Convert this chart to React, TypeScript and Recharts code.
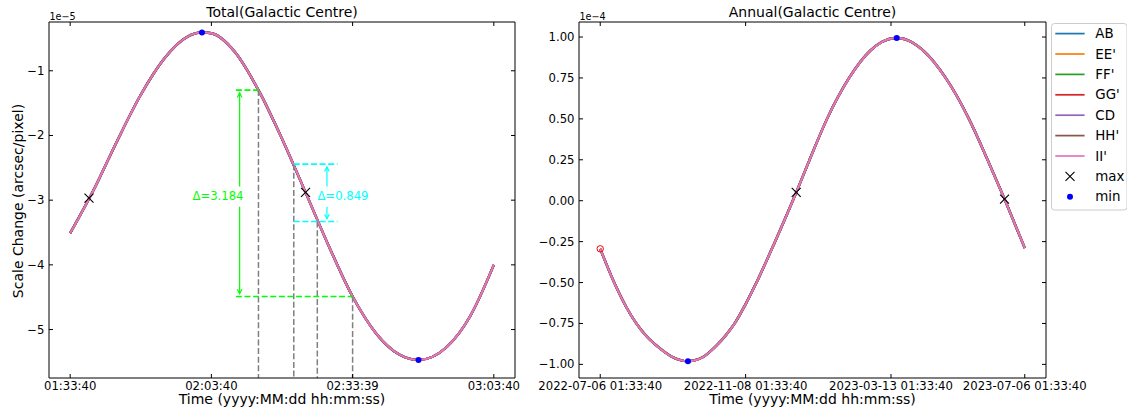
import React from 'react';
import {
  ComposedChart,
  Line,
  XAxis,
  YAxis,
  ReferenceLine,
  ReferenceDot,
  Legend,
  Customized,
} from 'recharts';

const FONT = "'DejaVu Sans', sans-serif";
const TICK_FS = 11.67;
const LABEL_FS = 14;

// ---------- series ----------
const seriesNames = ['AB', "EE'", "FF'", "GG'", 'CD', "HH'", "II'"];
const seriesColors = ['#1f77b4', '#ff7f0e', '#2ca02c', '#d62728', '#9467bd', '#8c564b', '#e377c2'];

// ---------- Total (Galactic Centre), x in minutes after 01:33:40, y in 1e-5 ----------
const totalMinutes = [0, 5, 10, 15, 20, 25, 28, 30, 35, 40, 45, 50, 55, 60, 65, 70, 74, 80, 85, 90];
const totalValues = [-3.51, -2.84, -2.08, -1.37, -0.81, -0.47, -0.407, -0.42, -0.71, -1.299, -2.05, -2.88, -3.72, -4.49, -5.06, -5.39, -5.47, -5.27, -4.79, -4.0];
const totalTickMinutes = [0, 30, 60, 90];
const totalTickLabels = ['01:33:40', '02:03:40', '02:33:39', '03:03:40'];
const totalYTicks = [-5, -4, -3, -2, -1];
const totalMaxMinutes = [4, 50];
const totalMaxValues = [-2.97, -2.88];
const totalMinMinutes = [28, 74];
const totalMinValues = [-0.407, -5.47];
const totalXDomain = [-4.5, 94.5];
const totalYDomain = [-5.749, -0.246];

// difference annotations (data coordinates)
const dropMinutes = [40, 47.5, 52.5, 60];
const dropValues = [-1.299, -2.443, -3.331, -4.49];
const bigDeltaLevels = [-1.299, -4.49];
const bigDeltaStart = 35.2;
const bigDeltaEnds = [40, 60];
const smallDeltaLevels = [-2.443, -3.331];
const smallDeltaStart = 47.5;
const smallDeltaEnd = 56.8;
const deltaLabels = ['Δ=3.184', 'Δ=0.849'];
const deltaColors = ['#00ff00', '#00ffff'];
const deltaArrowMinutes = [36.0, 54.55];
const deltaLabelMinutes = [31.4, 57.95];
const deltaLabelValue = -2.94;
const deltaGap = [-2.79, -3.1];

// ---------- Annual (Galactic Centre), x in days after 2022-07-06 01:33:40, y in 1e-4 ----------
const annualDays = [0, 12, 22, 31, 40, 50, 62, 75.4, 88, 100, 108, 116, 125, 134, 150, 168.5, 180, 195, 214, 232, 242, 254.9, 268, 278, 297, 317, 333, 347.6, 365];
const annualValues = [-0.294, -0.5, -0.645, -0.75, -0.83, -0.895, -0.955, -0.981, -0.957, -0.885, -0.822, -0.745, -0.632, -0.505, -0.255, 0.05, 0.25, 0.5, 0.75, 0.915, 0.969, 0.994, 0.968, 0.915, 0.75, 0.5, 0.25, 0.01, -0.289];
const annualTickDays = [0, 125, 250, 365];
const annualTickLabels = ['2022-07-06 01:33:40', '2022-11-08 01:33:40', '2023-03-13 01:33:40', '2023-07-06 01:33:40'];
const annualYTicks = [-1, -0.75, -0.5, -0.25, 0, 0.25, 0.5, 0.75, 1];
const annualMaxDays = [168.5, 347.6];
const annualMaxValues = [0.051, 0.01];
const annualMinDays = [75.4, 254.9];
const annualMinValues = [-0.981, 0.994];
const annualStartDay = 0;
const annualStartValue = -0.294;
const annualXDomain = [-18.25, 383.25];
const annualYDomain = [-1.0832, 1.0918];

const buildRows = (xs: number[], ys: number[]) =>
  xs.map((x, i) => {
    const row: any = { t: x };
    seriesNames.forEach((n) => {
      row[n] = ys[i];
    });
    return row;
  });

const totalData = buildRows(totalMinutes, totalValues);
const annualData = buildRows(annualDays, annualValues);

const minus = (s: string) => s.replace('-', '\u2212');

// ---------- tick renderers (matplotlib-style inward ticks) ----------
const bottomTick = (fmt: (v: number) => string) => (p: any) => (
  <g>
    <line x1={p.x} y1={p.y} x2={p.x} y2={p.y - 4} stroke="#000" strokeWidth={1} />
    <text x={p.x} y={p.y + 12} textAnchor="middle" fontSize={TICK_FS} fontFamily={FONT} fill="#000">
      {fmt(p.payload.value)}
    </text>
  </g>
);
const topTick = (p: any) => <line x1={p.x} y1={p.y} x2={p.x} y2={p.y + 4} stroke="#000" strokeWidth={1} />;
const leftTick = (fmt: (v: number) => string) => (p: any) => (
  <g>
    <line x1={p.x} y1={p.y} x2={p.x + 4} y2={p.y} stroke="#000" strokeWidth={1} />
    <text x={p.x - 4.5} y={p.y} textAnchor="end" dominantBaseline="central" fontSize={TICK_FS} fontFamily={FONT} fill="#000">
      {fmt(p.payload.value)}
    </text>
  </g>
);
const rightTick = (p: any) => <line x1={p.x} y1={p.y} x2={p.x - 4} y2={p.y} stroke="#000" strokeWidth={1} />;

const fmtTotalX = (v: number) => totalTickLabels[totalTickMinutes.indexOf(v)] ?? '';
const fmtAnnualX = (v: number) => annualTickLabels[annualTickDays.indexOf(v)] ?? '';
const fmtTotalY = (v: number) => minus(String(v));
const fmtAnnualY = (v: number) => minus(v.toFixed(2));

// ---------- marker shapes ----------
const crossShape = (p: any) => (
  <path
    d={`M${p.cx - 4.5},${p.cy - 4.5}L${p.cx + 4.5},${p.cy + 4.5}M${p.cx - 4.5},${p.cy + 4.5}L${p.cx + 4.5},${p.cy - 4.5}`}
    stroke="#000"
    strokeWidth={1.1}
    fill="none"
  />
);
const dotShape = (p: any) => <circle cx={p.cx} cy={p.cy} r={3} fill="#0000ff" stroke="none" />;

const arrowShape = (color: string) => (p: any) => {
  const { x1, y1, x2, y2 } = p;
  const dx = x2 - x1;
  const dy = y2 - y1;
  const len = Math.hypot(dx, dy) || 1;
  const ux = dx / len;
  const uy = dy / len;
  const tipX = x1 + ux * 2.8;
  const tipY = y1 + uy * 2.8;
  const hl = 4.5;
  const hw = 2.3;
  const bx = tipX + ux * hl;
  const by = tipY + uy * hl;
  const px = -uy;
  const py = ux;
  return (
    <g>
      <line x1={tipX} y1={tipY} x2={x2} y2={y2} stroke={color} strokeWidth={1.2} />
      <polyline
        points={`${bx + px * hw},${by + py * hw} ${tipX},${tipY} ${bx - px * hw},${by - py * hw}`}
        fill="none"
        stroke={color}
        strokeWidth={1.2}
      />
    </g>
  );
};

const labelShape = (text: string, color: string) => (p: any) => (
  <text x={p.cx} y={p.cy} textAnchor="middle" dominantBaseline="central" fontSize={TICK_FS} fontFamily={FONT} fill={color}>
    {text}
  </text>
);

// ---------- static texts ----------
const LeftTexts = () => (
  <g fontFamily={FONT} fill="#000">
    <text x={282} y={17} textAnchor="middle" fontSize={LABEL_FS}>Total(Galactic Centre)</text>
    <text x={49.5} y={19.5} fontSize={9.6}>1e{'\u2212'}5</text>
    <text x={282} y={404} textAnchor="middle" fontSize={LABEL_FS}>Time (yyyy:MM:dd hh:mm:ss)</text>
    <text x={17.5} y={201} textAnchor="middle" dominantBaseline="central" fontSize={LABEL_FS} transform="rotate(-90 17.5 201)">
      Scale Change (arcsec/pixel)
    </text>
  </g>
);

const RightTexts = () => (
  <g fontFamily={FONT} fill="#000">
    <text x={292.5} y={17} textAnchor="middle" fontSize={LABEL_FS}>Annual(Galactic Centre)</text>
    <text x={59.5} y={19.5} fontSize={9.6}>1e{'\u2212'}4</text>
    <text x={292.5} y={404} textAnchor="middle" fontSize={LABEL_FS}>Time (yyyy:MM:dd hh:mm:ss)</text>
  </g>
);

const LegendBox = () => (
  <svg width={77} height={188} style={{ display: 'block', overflow: 'visible' }}>
    <rect x={0.5} y={0.5} width={75.5} height={186.5} rx={3} fill="#fff" fillOpacity={0.8} stroke="#cccccc" strokeWidth={1} />
    {seriesNames.map((n, i) => (
      <g key={n}>
        <line x1={4.3} x2={33.6} y1={10.6 + 20.4 * i} y2={10.6 + 20.4 * i} stroke={seriesColors[i]} strokeWidth={1.75} />
        <text x={44.3} y={10.6 + 20.4 * i} dominantBaseline="central" fontSize={13.4} fontFamily={FONT} fill="#000">
          {n}
        </text>
      </g>
    ))}
    <path
      d={`M${19 - 4.5},${10.6 + 20.4 * 7 - 4.5}L${19 + 4.5},${10.6 + 20.4 * 7 + 4.5}M${19 - 4.5},${10.6 + 20.4 * 7 + 4.5}L${19 + 4.5},${10.6 + 20.4 * 7 - 4.5}`}
      stroke="#000"
      strokeWidth={1.1}
    />
    <text x={44.3} y={10.6 + 20.4 * 7} dominantBaseline="central" fontSize={13.4} fontFamily={FONT} fill="#000">max</text>
    <circle cx={19} cy={10.6 + 20.4 * 8} r={3} fill="#0000ff" />
    <text x={44.3} y={10.6 + 20.4 * 8} dominantBaseline="central" fontSize={13.4} fontFamily={FONT} fill="#000">min</text>
  </svg>
);

const axisLine = { stroke: '#000', strokeWidth: 1 };

const seriesLines = () =>
  seriesNames.map((n, i) => (
    <Line
      key={n}
      type="monotone"
      dataKey={n}
      stroke={seriesColors[i]}
      strokeWidth={i === seriesNames.length - 1 ? 1.9 : 2.3}
      dot={false}
      activeDot={false}
      isAnimationActive={false}
    />
  ));

export default function App() {
  return (
    <div style={{ position: 'absolute', left: 0, top: 0, width: 1127, height: 415, background: '#fff', overflow: 'hidden' }}>
      <div style={{ position: 'absolute', left: 0, top: 0 }}>
        <ComposedChart width={560} height={415} data={totalData} margin={{ top: 21, right: 44, bottom: 0, left: 0 }}>
          <XAxis dataKey="t" type="number" domain={totalXDomain} ticks={totalTickMinutes} allowDataOverflow interval={0}
            height={37} tickSize={0} tickMargin={0} tickLine={false} axisLine={axisLine} tick={bottomTick(fmtTotalX)} />
          <XAxis xAxisId="top" orientation="top" dataKey="t" type="number" domain={totalXDomain} ticks={totalTickMinutes}
            allowDataOverflow interval={0} height={1} tickSize={0} tickMargin={0} tickLine={false} axisLine={axisLine} tick={topTick} />
          <YAxis type="number" domain={totalYDomain} ticks={totalYTicks} allowDataOverflow interval={0} width={49}
            tickSize={0} tickMargin={0} tickLine={false} axisLine={axisLine} tick={leftTick(fmtTotalY)} />
          <YAxis yAxisId="right" orientation="right" type="number" domain={totalYDomain} ticks={totalYTicks} allowDataOverflow
            interval={0} width={1} tickSize={0} tickMargin={0} tickLine={false} axisLine={axisLine} tick={rightTick} />
          {seriesLines()}
          {dropMinutes.map((m, i) => (
            <ReferenceLine key={`drop${i}`} ifOverflow="visible"
              segment={[{ x: m, y: dropValues[i] }, { x: m, y: totalYDomain[0] }]}
              stroke="#808080" strokeWidth={1.5} strokeDasharray="6 2.6" />
          ))}
          {bigDeltaLevels.map((v, i) => (
            <ReferenceLine key={`bl${i}`} ifOverflow="visible"
              segment={[{ x: bigDeltaStart, y: v }, { x: bigDeltaEnds[i], y: v }]}
              stroke={deltaColors[0]} strokeWidth={1.6} strokeDasharray="6 2.6" />
          ))}
          {smallDeltaLevels.map((v, i) => (
            <ReferenceLine key={`sl${i}`} ifOverflow="visible"
              segment={[{ x: smallDeltaStart, y: v }, { x: smallDeltaEnd, y: v }]}
              stroke={deltaColors[1]} strokeWidth={1.6} strokeDasharray="6 2.6" />
          ))}
          <ReferenceLine ifOverflow="visible" segment={[{ x: deltaArrowMinutes[0], y: bigDeltaLevels[0] }, { x: deltaArrowMinutes[0], y: deltaGap[0] }]} shape={arrowShape(deltaColors[0])} />
          <ReferenceLine ifOverflow="visible" segment={[{ x: deltaArrowMinutes[0], y: bigDeltaLevels[1] }, { x: deltaArrowMinutes[0], y: deltaGap[1] }]} shape={arrowShape(deltaColors[0])} />
          <ReferenceLine ifOverflow="visible" segment={[{ x: deltaArrowMinutes[1], y: smallDeltaLevels[0] }, { x: deltaArrowMinutes[1], y: deltaGap[0] }]} shape={arrowShape(deltaColors[1])} />
          <ReferenceLine ifOverflow="visible" segment={[{ x: deltaArrowMinutes[1], y: smallDeltaLevels[1] }, { x: deltaArrowMinutes[1], y: deltaGap[1] }]} shape={arrowShape(deltaColors[1])} />
          {deltaLabels.map((t, i) => (
            <ReferenceDot key={`dl${i}`} ifOverflow="visible" x={deltaLabelMinutes[i]} y={deltaLabelValue} r={0} shape={labelShape(t, deltaColors[i])} />
          ))}
          {totalMaxMinutes.map((m, i) => (
            <ReferenceDot key={`tmax${i}`} x={m} y={totalMaxValues[i]} r={4} shape={crossShape} />
          ))}
          {totalMinMinutes.map((m, i) => (
            <ReferenceDot key={`tmin${i}`} x={m} y={totalMinValues[i]} r={3} shape={dotShape} />
          ))}
          <Customized component={LeftTexts} />
        </ComposedChart>
      </div>
      <div style={{ position: 'absolute', left: 520, top: 0 }}>
        <ComposedChart width={607} height={415} data={annualData} margin={{ top: 21, right: 80, bottom: 0, left: 0 }}>
          <XAxis dataKey="t" type="number" domain={annualXDomain} ticks={annualTickDays} allowDataOverflow interval={0}
            height={37} tickSize={0} tickMargin={0} tickLine={false} axisLine={axisLine} tick={bottomTick(fmtAnnualX)} />
          <XAxis xAxisId="top" orientation="top" dataKey="t" type="number" domain={annualXDomain} ticks={annualTickDays}
            allowDataOverflow interval={0} height={1} tickSize={0} tickMargin={0} tickLine={false} axisLine={axisLine} tick={topTick} />
          <YAxis type="number" domain={annualYDomain} ticks={annualYTicks} allowDataOverflow interval={0} width={59}
            tickSize={0} tickMargin={0} tickLine={false} axisLine={axisLine} tick={leftTick(fmtAnnualY)} />
          <YAxis yAxisId="right" orientation="right" type="number" domain={annualYDomain} ticks={annualYTicks} allowDataOverflow
            interval={0} width={1} tickSize={0} tickMargin={0} tickLine={false} axisLine={axisLine} tick={rightTick} />
          {seriesLines()}
          <ReferenceDot x={annualStartDay} y={annualStartValue} r={3.2} fill="none" stroke="#ff0000" strokeWidth={1} />
          {annualMaxDays.map((d, i) => (
            <ReferenceDot key={`amax${i}`} x={d} y={annualMaxValues[i]} r={4} shape={crossShape} />
          ))}
          {annualMinDays.map((d, i) => (
            <ReferenceDot key={`amin${i}`} x={d} y={annualMinValues[i]} r={3} shape={dotShape} />
          ))}
          <Customized component={RightTexts} />
          <Legend layout="horizontal" verticalAlign="middle" align="center" content={() => <LegendBox />}
            wrapperStyle={{ left: 530.7, top: 22.7, width: 77, height: 188 }} />
        </ComposedChart>
      </div>
    </div>
  );
}
